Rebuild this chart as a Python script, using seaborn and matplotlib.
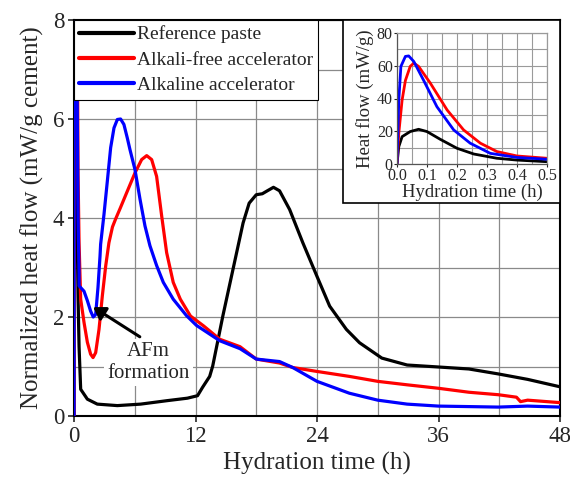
import numpy as np
import pandas as pd
import matplotlib
matplotlib.use("Agg")
import matplotlib.pyplot as plt
from matplotlib.patches import Rectangle
from matplotlib.ticker import MultipleLocator
import seaborn as sns

# ---------------------------------------
# Data
# ---------------------------------------

# first half hour (inset)
ref_t_early = [0, 0.006, 0.017, 0.044, 0.072, 0.1, 0.144, 0.2, 0.256, 0.333, 0.4, 0.5]
ref_q_early = [0, 10.6, 16.7, 19.8, 21.2, 19.8, 15.1, 9.6, 6.1, 3.5, 2.4, 1.4]
afree_t_early = [0, 0.006, 0.017, 0.028, 0.044, 0.056, 0.072, 0.111, 0.167, 0.222, 0.278, 0.333, 0.4, 0.5]
afree_q_early = [0, 18.8, 39, 51, 59.6, 61.6, 59.6, 49.4, 33, 20.8, 12.7, 7.6, 4.9, 3.5]
alk_t_early = [0, 0.006, 0.013, 0.028, 0.039, 0.056, 0.089, 0.133, 0.189, 0.244, 0.311, 0.4, 0.5]
alk_q_early = [0, 39, 59.6, 65.7, 66, 62.6, 51, 35, 20.8, 12.7, 6.5, 4, 2.9]

# rest of the 48 h
ref_t = [0.66, 1.32, 2.3, 4.28, 6.58, 9.2, 11.2, 12.2, 12.7, 13.4, 13.7, 14.7, 15.7, 16.7,
         17.3, 18.0, 18.6, 19.1, 19.7, 20.3, 21.3, 22.6, 24, 25.25, 26.9, 28.2, 30.4,
         32.9, 36, 39, 41.9, 44.8, 48]
ref_q = [0.54, 0.34, 0.24, 0.21, 0.24, 0.31, 0.36, 0.41, 0.58, 0.8, 1.01, 2.02, 2.96, 3.9,
         4.3, 4.47, 4.49, 4.55, 4.62, 4.55, 4.17, 3.5, 2.82, 2.22, 1.75, 1.48, 1.17,
         1.03, 0.99, 0.95, 0.85, 0.74, 0.59]
afree_t = [0.66, 0.99, 1.32, 1.64, 1.88, 2.14, 2.47, 2.8, 3.13, 3.45, 3.8, 4.11, 4.57, 5.2,
           6.02, 6.68, 7.18, 7.67, 8.16, 8.66, 9.15, 9.8, 10.5, 11.5, 12.8,
           14.4, 16.4, 18, 20.3, 21.6, 24, 27.2, 30, 32.9, 36, 39, 41.9, 43.7, 44.1,
           44.8, 48]
afree_q = [2.36, 1.89, 1.49, 1.25, 1.18, 1.28, 1.75, 2.43, 3.03, 3.5, 3.82, 3.98, 4.2, 4.51,
           4.91, 5.18, 5.26, 5.18, 4.84, 4.04, 3.3, 2.7, 2.36, 2.02, 1.82,
           1.55, 1.4, 1.15, 1.07, 0.98, 0.9, 0.8, 0.7, 0.63, 0.56, 0.48, 0.43, 0.38, 0.29,
           0.32, 0.27]
alk_t = [0.5, 0.99, 1.32, 1.64, 1.9, 2.14, 2.37, 2.57, 2.63, 2.96, 3.29, 3.62, 3.95, 4.28,
         4.6, 4.93, 5.26, 5.53, 6.02, 6.52, 7.01, 7.5, 8.16, 8.82, 9.8, 11.1, 12.1,
         14.4, 16.4, 18, 20.3, 21.6, 24, 27.2, 30, 32.9, 36, 39, 41.9, 44.8, 48]
alk_q = [2.63, 2.52, 2.33, 2.12, 2.0, 2.05, 2.6, 3.23, 3.47, 4.07, 4.74, 5.42, 5.82, 5.99,
         6.0, 5.89, 5.62, 5.38, 4.98, 4.38, 3.84, 3.44, 3.04, 2.7, 2.36, 2.03, 1.83,
         1.52, 1.36, 1.15, 1.1, 0.98, 0.7, 0.46, 0.32, 0.24, 0.2, 0.19, 0.18, 0.2, 0.18]

labels = ["Reference paste", "Alkali-free accelerator", "Alkaline accelerator"]
colors = ["black", "red", "blue"]

early = pd.concat([
    pd.DataFrame({"time": ref_t_early, "q": ref_q_early, "sample": labels[0]}),
    pd.DataFrame({"time": afree_t_early, "q": afree_q_early, "sample": labels[1]}),
    pd.DataFrame({"time": alk_t_early, "q": alk_q_early, "sample": labels[2]}),
], ignore_index=True)
full = pd.concat([
    early,
    pd.DataFrame({"time": ref_t, "q": ref_q, "sample": labels[0]}),
    pd.DataFrame({"time": afree_t, "q": afree_q, "sample": labels[1]}),
    pd.DataFrame({"time": alk_t, "q": alk_q, "sample": labels[2]}),
], ignore_index=True).sort_values(["sample", "time"], kind="stable")

palette = dict(zip(labels, colors))

sns.set_style("ticks")
plt.rcParams["font.family"] = ["Liberation Serif", "DejaVu Serif"]

fig = plt.figure(figsize=(5.7, 4.87), dpi=100)
ax = fig.add_axes([74 / 570, 1 - 416 / 487, 486 / 570, 396 / 487])

sns.lineplot(data=full, x="time", y="q", hue="sample", hue_order=labels,
             palette=palette, estimator=None, sort=False, linewidth=2.3, ax=ax, zorder=3)

ax.set_xlim(0, 48)
ax.set_ylim(0, 8)
ax.xaxis.set_major_locator(MultipleLocator(12))
ax.xaxis.set_minor_locator(MultipleLocator(6))
ax.yaxis.set_major_locator(MultipleLocator(2))
ax.yaxis.set_minor_locator(MultipleLocator(1))
ax.set_axisbelow(True)
ax.grid(which="both", color="#8a8a8a", linewidth=0.9)
ax.tick_params(which="major", direction="out", length=4, width=1.2, labelsize=16.5, pad=3)
ax.tick_params(which="minor", length=0)
for s in ax.spines.values():
    s.set_visible(True)
    s.set_color("black")
    s.set_linewidth(1.5)
ax.set_xlabel("Hydration time (h)", fontsize=18, labelpad=4)
ax.set_ylabel("Normalized heat flow (mW/g cement)", fontsize=18, labelpad=6)

leg = ax.legend(loc="upper left", fontsize=14, frameon=True, fancybox=False,
                edgecolor="black", framealpha=1, borderaxespad=0, handlelength=2.8,
                handletextpad=0.15, labelspacing=0.4, borderpad=0.28)
leg.get_frame().set_linewidth(0.8)
for line in leg.get_lines():
    line.set_linewidth(3)

# AFm arrow and label
ax.annotate("", xy=(1.9, 2.2), xytext=(6.5, 1.6),
            arrowprops=dict(arrowstyle="-|>,head_length=0.7,head_width=0.45",
                            color="black", lw=2.2, shrinkA=0, shrinkB=0), zorder=4)
ax.text(7.35, 1.08, "AFm\nformation", ha="center", va="center", fontsize=15,
        linespacing=1.2, zorder=1,
        bbox=dict(boxstyle="square,pad=0.15", fc="white", ec="none"))

# inset frame
ax.add_patch(Rectangle((0.553, 0.538), 0.447, 0.462, transform=ax.transAxes,
                       facecolor="white", edgecolor="black", linewidth=1.2, zorder=4))

ins = fig.add_axes([397 / 570, 1 - 164 / 487, 150 / 570, 131 / 487], zorder=6)
sns.lineplot(data=early, x="time", y="q", hue="sample", hue_order=labels,
             palette=palette, estimator=None, sort=False, linewidth=2.0, ax=ins,
             legend=False)
ins.set_xlim(0, 0.5)
ins.set_ylim(0, 80)
ins.xaxis.set_major_locator(MultipleLocator(0.1))
ins.xaxis.set_minor_locator(MultipleLocator(0.05))
ins.yaxis.set_major_locator(MultipleLocator(20))
ins.yaxis.set_minor_locator(MultipleLocator(10))
ins.set_xticklabels([f"{v:.1f}" for v in ins.get_xticks()])
ins.set_axisbelow(True)
ins.grid(which="both", color="#9a9a9a", linewidth=0.8)
ins.tick_params(which="major", length=2, labelsize=11.5, pad=1)
ins.tick_params(which="minor", length=0)
for k, s in ins.spines.items():
    s.set_visible(True)
    s.set_color("#555555" if k in ("left", "bottom") else "#9a9a9a")
    s.set_linewidth(0.9)
ins.set_xlabel("Hydration time (h)", fontsize=13.5, labelpad=0)
ins.set_ylabel("Heat flow (mW/g)", fontsize=13.5, labelpad=2)

fig.savefig("out.png", dpi=100)
